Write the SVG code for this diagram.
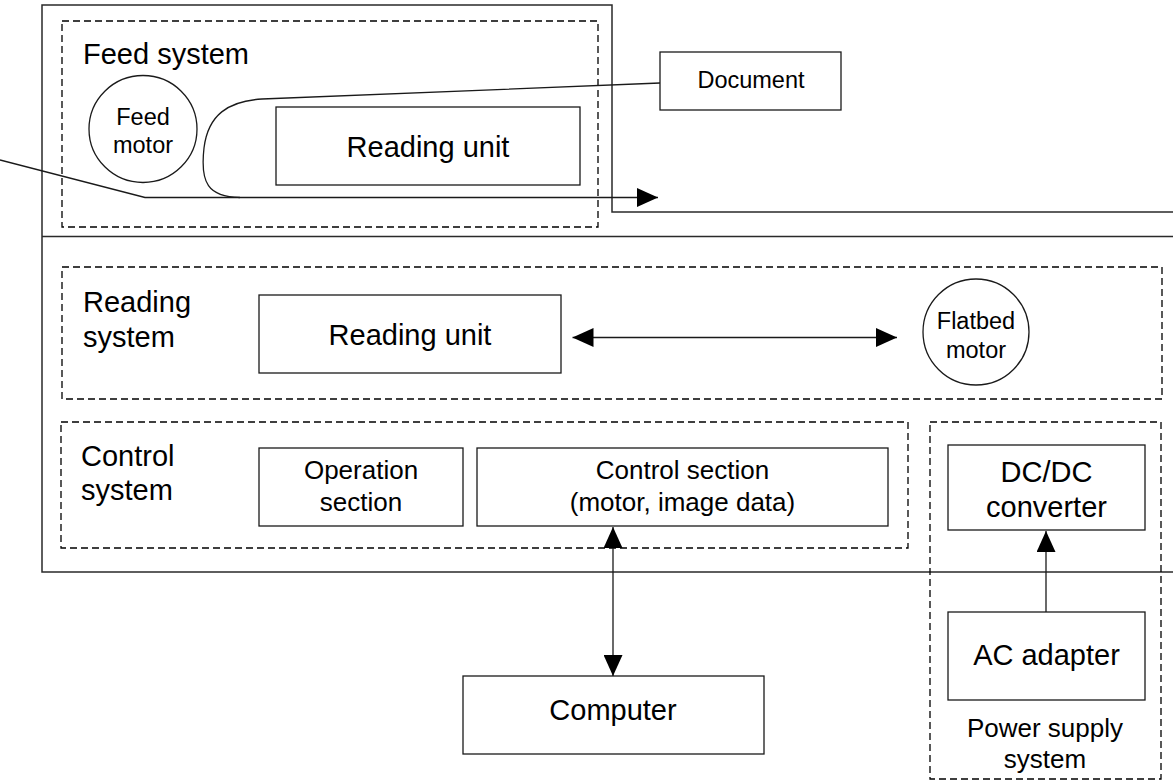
<svg xmlns="http://www.w3.org/2000/svg" width="1173" height="782" viewBox="0 0 1173 782">
  <style>
    .frame { fill: none; stroke: #2a2a2a; stroke-width: 1.5; }
    .box { fill: #ffffff; stroke: #1a1a1a; stroke-width: 1.3; }
    .group { fill: none; stroke: #000000; stroke-width: 1.3; stroke-dasharray: 7 4; }
    .line { fill: none; stroke: #1a1a1a; stroke-width: 1.3; }
    text { font-family: "Liberation Sans", Arial, Helvetica, sans-serif; fill: #000000; }
    .big { font-size: 29px; }
    .mid { font-size: 26px; }
    .small { font-size: 23.5px; }
    .c { text-anchor: middle; }
  </style>
  <defs>
    <marker id="arrow" viewBox="0 0 21 19" refX="21" refY="9.5" markerWidth="21" markerHeight="19" markerUnits="userSpaceOnUse" orient="auto-start-reverse">
      <path d="M0,0 L21,9.5 L0,19 Z" fill="#000000"/>
    </marker>
  </defs>
  <rect width="1173" height="782" fill="#ffffff"/>

  <!-- scanner housing outline -->
  <g id="housing">
    <path class="frame" d="M1173,212 L612,212 L612,5 L42,5 L42,572 L1173,572"/>
    <path class="frame" d="M42,236.5 L1173,236.5"/>
  </g>

  <!-- subsystem groupings -->
  <g id="feed-system">
    <rect class="group" x="62" y="21" width="536" height="206"/>
    <text class="big" x="83" y="64">Feed system</text>
  </g>
  <g id="reading-system">
    <rect class="group" x="62" y="267" width="1100" height="132"/>
    <text class="big" x="83" y="312">Reading</text>
    <text class="big" x="83" y="347">system</text>
  </g>
  <g id="control-system">
    <rect class="group" x="61" y="422" width="847" height="126"/>
    <text class="big" x="81" y="466">Control</text>
    <text class="big" x="81" y="500">system</text>
  </g>
  <g id="power-supply-system">
    <rect class="group" x="930" y="422" width="231" height="357"/>
    <text class="mid c" x="1045" y="737">Power supply</text>
    <text class="mid c" x="1045" y="768">system</text>
  </g>

  <!-- components -->
  <g id="feed-motor">
    <ellipse class="box" cx="143" cy="129" rx="54" ry="53.5"/>
    <text class="small c" x="143" y="125">Feed</text>
    <text class="small c" x="143" y="153">motor</text>
  </g>
  <g id="reading-unit-feed">
    <rect class="box" x="276" y="107" width="304" height="78"/>
    <text class="big c" x="428" y="157">Reading unit</text>
  </g>
  <g id="document">
    <rect class="box" x="660" y="52" width="181" height="58"/>
    <text class="small c" x="751" y="88">Document</text>
  </g>
  <g id="reading-unit-flatbed">
    <rect class="box" x="259" y="295" width="302" height="78"/>
    <text class="big c" x="410" y="345">Reading unit</text>
  </g>
  <g id="flatbed-motor">
    <ellipse class="box" cx="976" cy="332" rx="53" ry="53"/>
    <text class="small c" x="976" y="329">Flatbed</text>
    <text class="small c" x="976" y="358">motor</text>
  </g>
  <g id="operation-section">
    <rect class="box" x="259" y="448" width="204" height="78"/>
    <text class="mid c" x="361" y="479">Operation</text>
    <text class="mid c" x="361" y="511">section</text>
  </g>
  <g id="control-section">
    <rect class="box" x="477" y="448" width="411" height="78"/>
    <text class="mid c" x="682.5" y="479">Control section</text>
    <text class="mid c" x="682.5" y="511">(motor, image data)</text>
  </g>
  <g id="dcdc-converter">
    <rect class="box" x="948" y="445" width="197" height="85"/>
    <text class="big c" x="1046.5" y="482">DC/DC</text>
    <text class="big c" x="1046.5" y="517">converter</text>
  </g>
  <g id="ac-adapter">
    <rect class="box" x="948" y="612" width="197" height="88"/>
    <text class="big c" x="1046.5" y="665">AC adapter</text>
  </g>
  <g id="computer">
    <rect class="box" x="463" y="676" width="301" height="78"/>
    <text class="big c" x="613" y="720">Computer</text>
  </g>

  <!-- connectors -->
  <g id="connectors">
    <!-- paper path through the feeder -->
    <path class="line" d="M0,160 L145,197.5 L658,197.5" marker-end="url(#arrow)"/>
    <path class="line" d="M660,83 L262,99 C228,101 208,115 204,148 C200,183 208,197 240,197.5"/>
    <!-- carriage travel -->
    <path class="line" d="M572.5,337.5 L897,337.5" marker-start="url(#arrow)" marker-end="url(#arrow)"/>
    <!-- host interface -->
    <path class="line" d="M613,527 L613,676" marker-start="url(#arrow)" marker-end="url(#arrow)"/>
    <!-- power feed -->
    <path class="line" d="M1046,612 L1046,531" marker-end="url(#arrow)"/>
  </g>
</svg>
